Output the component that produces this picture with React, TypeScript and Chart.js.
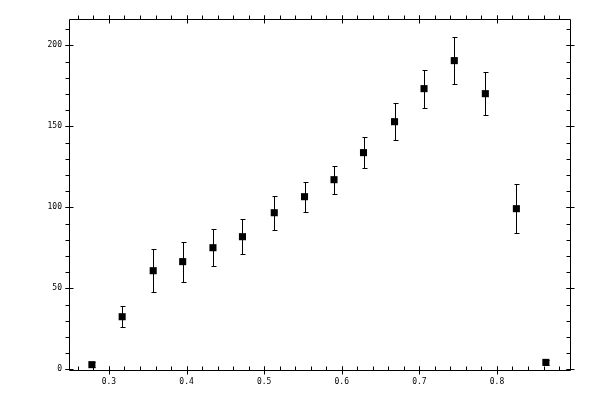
import React, { useEffect, useRef } from 'react';
import { Chart, registerables } from 'chart.js';

Chart.register(...registerables);

// values
const xValues = [0.278, 0.317, 0.357, 0.395, 0.434, 0.472, 0.513, 0.552, 0.59, 0.628, 0.668, 0.706, 0.745, 0.785, 0.825, 0.863];
const yValues = [2.9, 32.5, 60.9, 66.5, 75.1, 81.9, 96.7, 106.6, 117.1, 133.8, 152.9, 173.3, 190.6, 170.2, 99.2, 4.3];
const yErrors = [1.5, 6.6, 13.3, 12.3, 11.4, 10.8, 10.5, 9.3, 8.6, 9.5, 11.4, 11.7, 14.5, 13.3, 15, 1.5];

const xTicks = [0.3, 0.4, 0.5, 0.6, 0.7, 0.8];
const yTicks = [0, 50, 100, 150, 200];
const xMinorStep = 0.02;
const yMinorStep = 10;

const X_MIN = 0.2485;
const X_MAX = 0.8941;
const Y_MIN = -0.4;
const Y_MAX = 216.3;

const snap = (v: number) => Math.round(v) + 0.5;

// frame with major/minor ticks on all four sides
const framePlugin = {
  id: 'frame',
  afterDraw(chart: Chart) {
    const { ctx, chartArea } = chart;
    const xs = chart.scales.x;
    const ys = chart.scales.y;
    const l = snap(chartArea.left);
    const r = snap(chartArea.right);
    const t = snap(chartArea.top);
    const b = snap(chartArea.bottom);
    ctx.save();
    ctx.strokeStyle = '#000';
    ctx.lineWidth = 1;
    ctx.beginPath();
    ctx.rect(l, t, r - l, b - t);

    // minor ticks (all point up / left)
    for (let v = Math.ceil(X_MIN / xMinorStep) * xMinorStep; v < X_MAX; v += xMinorStep) {
      const px = snap(xs.getPixelForValue(v));
      ctx.moveTo(px, b); ctx.lineTo(px, b - 4);
      ctx.moveTo(px, t); ctx.lineTo(px, t - 4);
    }
    for (let v = Math.ceil(Y_MIN / yMinorStep) * yMinorStep; v < Y_MAX; v += yMinorStep) {
      const py = snap(ys.getPixelForValue(v));
      ctx.moveTo(l, py); ctx.lineTo(l - 4, py);
      ctx.moveTo(r, py); ctx.lineTo(r - 4, py);
    }
    // major ticks cross the line
    xTicks.forEach((v) => {
      const px = snap(xs.getPixelForValue(v));
      ctx.moveTo(px, b - 4); ctx.lineTo(px, b + 4);
      ctx.moveTo(px, t - 4); ctx.lineTo(px, t + 4);
    });
    yTicks.forEach((v) => {
      const py = snap(ys.getPixelForValue(v));
      ctx.moveTo(l - 4, py); ctx.lineTo(l + 4, py);
      ctx.moveTo(r - 4, py); ctx.lineTo(r + 4, py);
    });
    ctx.stroke();
    ctx.restore();
  },
};

const errorBarPlugin = {
  id: 'errorBars',
  beforeDatasetsDraw(chart: Chart) {
    const { ctx } = chart;
    const xs = chart.scales.x;
    const ys = chart.scales.y;
    ctx.save();
    ctx.strokeStyle = '#000';
    ctx.lineWidth = 1;
    ctx.beginPath();
    xValues.forEach((x, i) => {
      const px = snap(xs.getPixelForValue(x));
      const top = snap(ys.getPixelForValue(yValues[i] + yErrors[i]));
      const bot = snap(ys.getPixelForValue(yValues[i] - yErrors[i]));
      ctx.moveTo(px, top); ctx.lineTo(px, bot);
      ctx.moveTo(px - 2, top); ctx.lineTo(px + 3, top);
      ctx.moveTo(px - 2, bot); ctx.lineTo(px + 3, bot);
    });
    ctx.stroke();
    ctx.restore();
  },
};

export default function App() {
  const canvasRef = useRef<HTMLCanvasElement>(null);
  const chartRef = useRef<Chart | null>(null);

  useEffect(() => {
    if (!canvasRef.current) return;
    if (chartRef.current) chartRef.current.destroy();

    const tickFont = { family: 'DejaVu Sans Mono', size: 8 };

    chartRef.current = new Chart(canvasRef.current, {
      type: 'scatter',
      data: {
        datasets: [
          {
            data: xValues.map((x, i) => ({ x, y: yValues[i] })),
            pointStyle: 'rect',
            pointRadius: 5,
            pointHoverRadius: 5,
            backgroundColor: '#000',
            borderColor: '#000',
            borderWidth: 0,
          },
        ],
      },
      options: {
        responsive: false,
        animation: false,
        devicePixelRatio: 1,
        layout: { padding: { top: 19, right: 30, left: 0, bottom: 0 } },
        plugins: {
          legend: { display: false },
          tooltip: { enabled: false },
        },
        scales: {
          x: {
            type: 'linear',
            min: X_MIN,
            max: X_MAX,
            grid: { display: false, drawTicks: false },
            border: { display: false },
            afterBuildTicks: (scale: any) => {
              scale.ticks = xTicks.map((value) => ({ value }));
            },
            afterFit: (scale: any) => {
              scale.height = 30;
            },
            ticks: {
              color: '#000',
              font: tickFont,
              padding: 7,
              maxRotation: 0,
              callback: (v: any) => Number(v).toFixed(1),
            },
          },
          y: {
            type: 'linear',
            min: Y_MIN,
            max: Y_MAX,
            grid: { display: false, drawTicks: false },
            border: { display: false },
            afterBuildTicks: (scale: any) => {
              scale.ticks = yTicks.map((value) => ({ value }));
            },
            afterFit: (scale: any) => {
              scale.width = 69;
            },
            ticks: {
              color: '#000',
              font: tickFont,
              padding: 7,
              callback: (v: any) => String(v),
            },
          },
        },
      },
      plugins: [errorBarPlugin, framePlugin],
    });

    return () => {
      if (chartRef.current) {
        chartRef.current.destroy();
        chartRef.current = null;
      }
    };
  }, []);

  return (
    <div style={{ position: 'fixed', left: 0, top: 0, width: 600, height: 400, background: '#fff' }}>
      <canvas ref={canvasRef} width={600} height={400}></canvas>
    </div>
  );
}
